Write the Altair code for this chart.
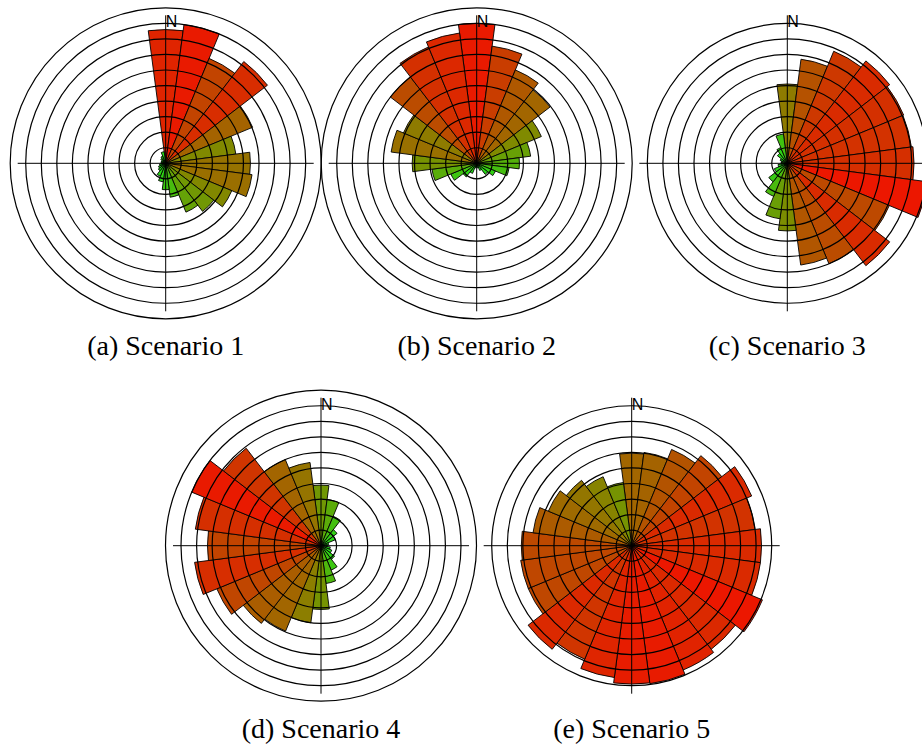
import math
import altair as alt
import pandas as pd

# ---------------- data ----------------
DIRECTIONS = list(range(0, 360, 15))  # sector centres, degrees clockwise from north

SCENARIO_1 = [8.6, 9.0, 7.3, 8.25, 6.05, 4.55, 5.45, 5.6, 4.6, 3.9, 3.4, 2.2,
              1.7, 1.2, 0.9, 0.6, 0.5, 0.4, 0.3, 0.3, 0.3, 0.4, 0.5, 0.75]
SCENARIO_2 = [9.0, 7.6, 6.5, 5.95, 4.5, 3.5, 2.75, 2.1, 1.3, 0.9, 0.5, 0.3,
              0.2, 0.3, 0.7, 1.1, 1.8, 2.9, 4.15, 5.55, 5.1, 7.0, 8.1, 8.45]
SCENARIO_3 = [5.1, 6.75, 7.8, 8.3, 8.1, 8.05, 8.15, 9.1, 7.1, 8.3, 7.0, 6.6,
              4.35, 3.6, 2.3, 1.5, 0.9, 0.6, 0.4, 0.4, 0.5, 0.8, 1.1, 1.9]
SCENARIO_4 = [3.9, 3.0, 2.05, 1.3, 1.0, 0.5, 0.4, 0.6, 0.75, 1.1, 1.7, 2.45,
              4.1, 5.0, 5.95, 6.3, 7.25, 8.2, 7.3, 8.15, 9.0, 7.9, 6.0, 5.4]
SCENARIO_5 = [5.95, 6.05, 6.7, 7.3, 8.35, 8.0, 8.35, 8.35, 9.1, 8.4, 8.65, 8.95,
              8.9, 8.55, 7.9, 8.4, 7.2, 7.2, 7.1, 6.4, 5.8, 5.3, 4.8, 4.1]
SCENARIOS = [SCENARIO_1, SCENARIO_2, SCENARIO_3, SCENARIO_4, SCENARIO_5]

RING_COUNTS = [10, 10, 9, 10, 9]
CAPTIONS = ["(a) Scenario 1", "(b) Scenario 2", "(c) Scenario 3",
            "(d) Scenario 4", "(e) Scenario 5"]

# ---------------- layout / style ----------------
CENTERS = [(165.7, 163.3), (476.7, 163.3), (787.3, 163.3),
           (321.0, 545.7), (631.7, 545.7)]
UNIT_PX = 15.55
SECTOR = 15
AXIS_HALF = 148
CAPTION_DY = 192
N_DY = 136

rows = []
for i, vals in enumerate(SCENARIOS):
    for d, v in zip(DIRECTIONS, vals):
        rows.append({"panel": i, "dir": d, "t0": d - SECTOR / 2, "t1": d + SECTOR / 2, "v": v})
wedges = pd.DataFrame(rows)

rings = pd.DataFrame([{"panel": i, "ring": k}
                      for i, n in enumerate(RING_COUNTS) for k in range(1, n + 1)])
captions = pd.DataFrame({"panel": list(range(5)), "label": CAPTIONS})
one = pd.DataFrame({"a": [0]})

theta_scale = alt.Scale(domain=[0, 360], range=[0, 2 * math.pi])
radius_scale = alt.Scale(type="linear", domain=[0, 10], range=[0, 10 * UNIT_PX], zero=True)
color_scale = alt.Scale(domain=[0, 4.5, 9.2],
                        range=["#12ec1c", "#808a00", "#ee1500"],
                        interpolate="rgb")

layers = []
for i, (cx, cy) in enumerate(CENTERS):
    w = alt.Chart(wedges).transform_filter(alt.datum.panel == i).mark_arc(
        stroke="black", strokeWidth=0.9
    ).encode(
        x=alt.value(cx), y=alt.value(cy),
        theta=alt.Theta("t0:Q", stack=None, scale=theta_scale),
        theta2=alt.Theta2("t1:Q"),
        radius=alt.Radius("v:Q", stack=None, scale=radius_scale),
        fill=alt.Fill("v:Q", scale=color_scale, legend=None),
    )
    r = alt.Chart(rings).transform_filter(alt.datum.panel == i).mark_arc(
        filled=False, stroke="black", strokeWidth=1.2, fill="transparent"
    ).encode(
        x=alt.value(cx), y=alt.value(cy),
        theta=alt.value(0), theta2=alt.value(2 * math.pi + 0.001),
        radius=alt.Radius("ring:Q", stack=None, scale=radius_scale),
    )
    h = alt.Chart(one).mark_rule(color="black", strokeWidth=1).encode(
        x=alt.value(cx - AXIS_HALF), x2=alt.value(cx + AXIS_HALF), y=alt.value(cy)
    )
    v = alt.Chart(one).mark_rule(color="black", strokeWidth=1).encode(
        y=alt.value(cy - AXIS_HALF), y2=alt.value(cy + AXIS_HALF), x=alt.value(cx)
    )
    n = alt.Chart(one).mark_text(
        text="N", font="Liberation Sans", fontSize=16, align="left",
        baseline="alphabetic", color="black"
    ).encode(x=alt.value(cx), y=alt.value(cy - N_DY))
    c = alt.Chart(captions).transform_filter(alt.datum.panel == i).mark_text(
        font="Liberation Serif", fontSize=28, align="center",
        baseline="alphabetic", color="black"
    ).encode(x=alt.value(cx), y=alt.value(cy + CAPTION_DY), text="label:N")
    layers += [w, r, h, v, n, c]

chart = alt.layer(*layers).properties(
    width=922, height=745,
    autosize=alt.AutoSizeParams(type="none"),
    padding=0,
    background="white",
).configure_view(stroke=None)

chart.save("out.html", embed_options={"renderer": "svg", "actions": False})
